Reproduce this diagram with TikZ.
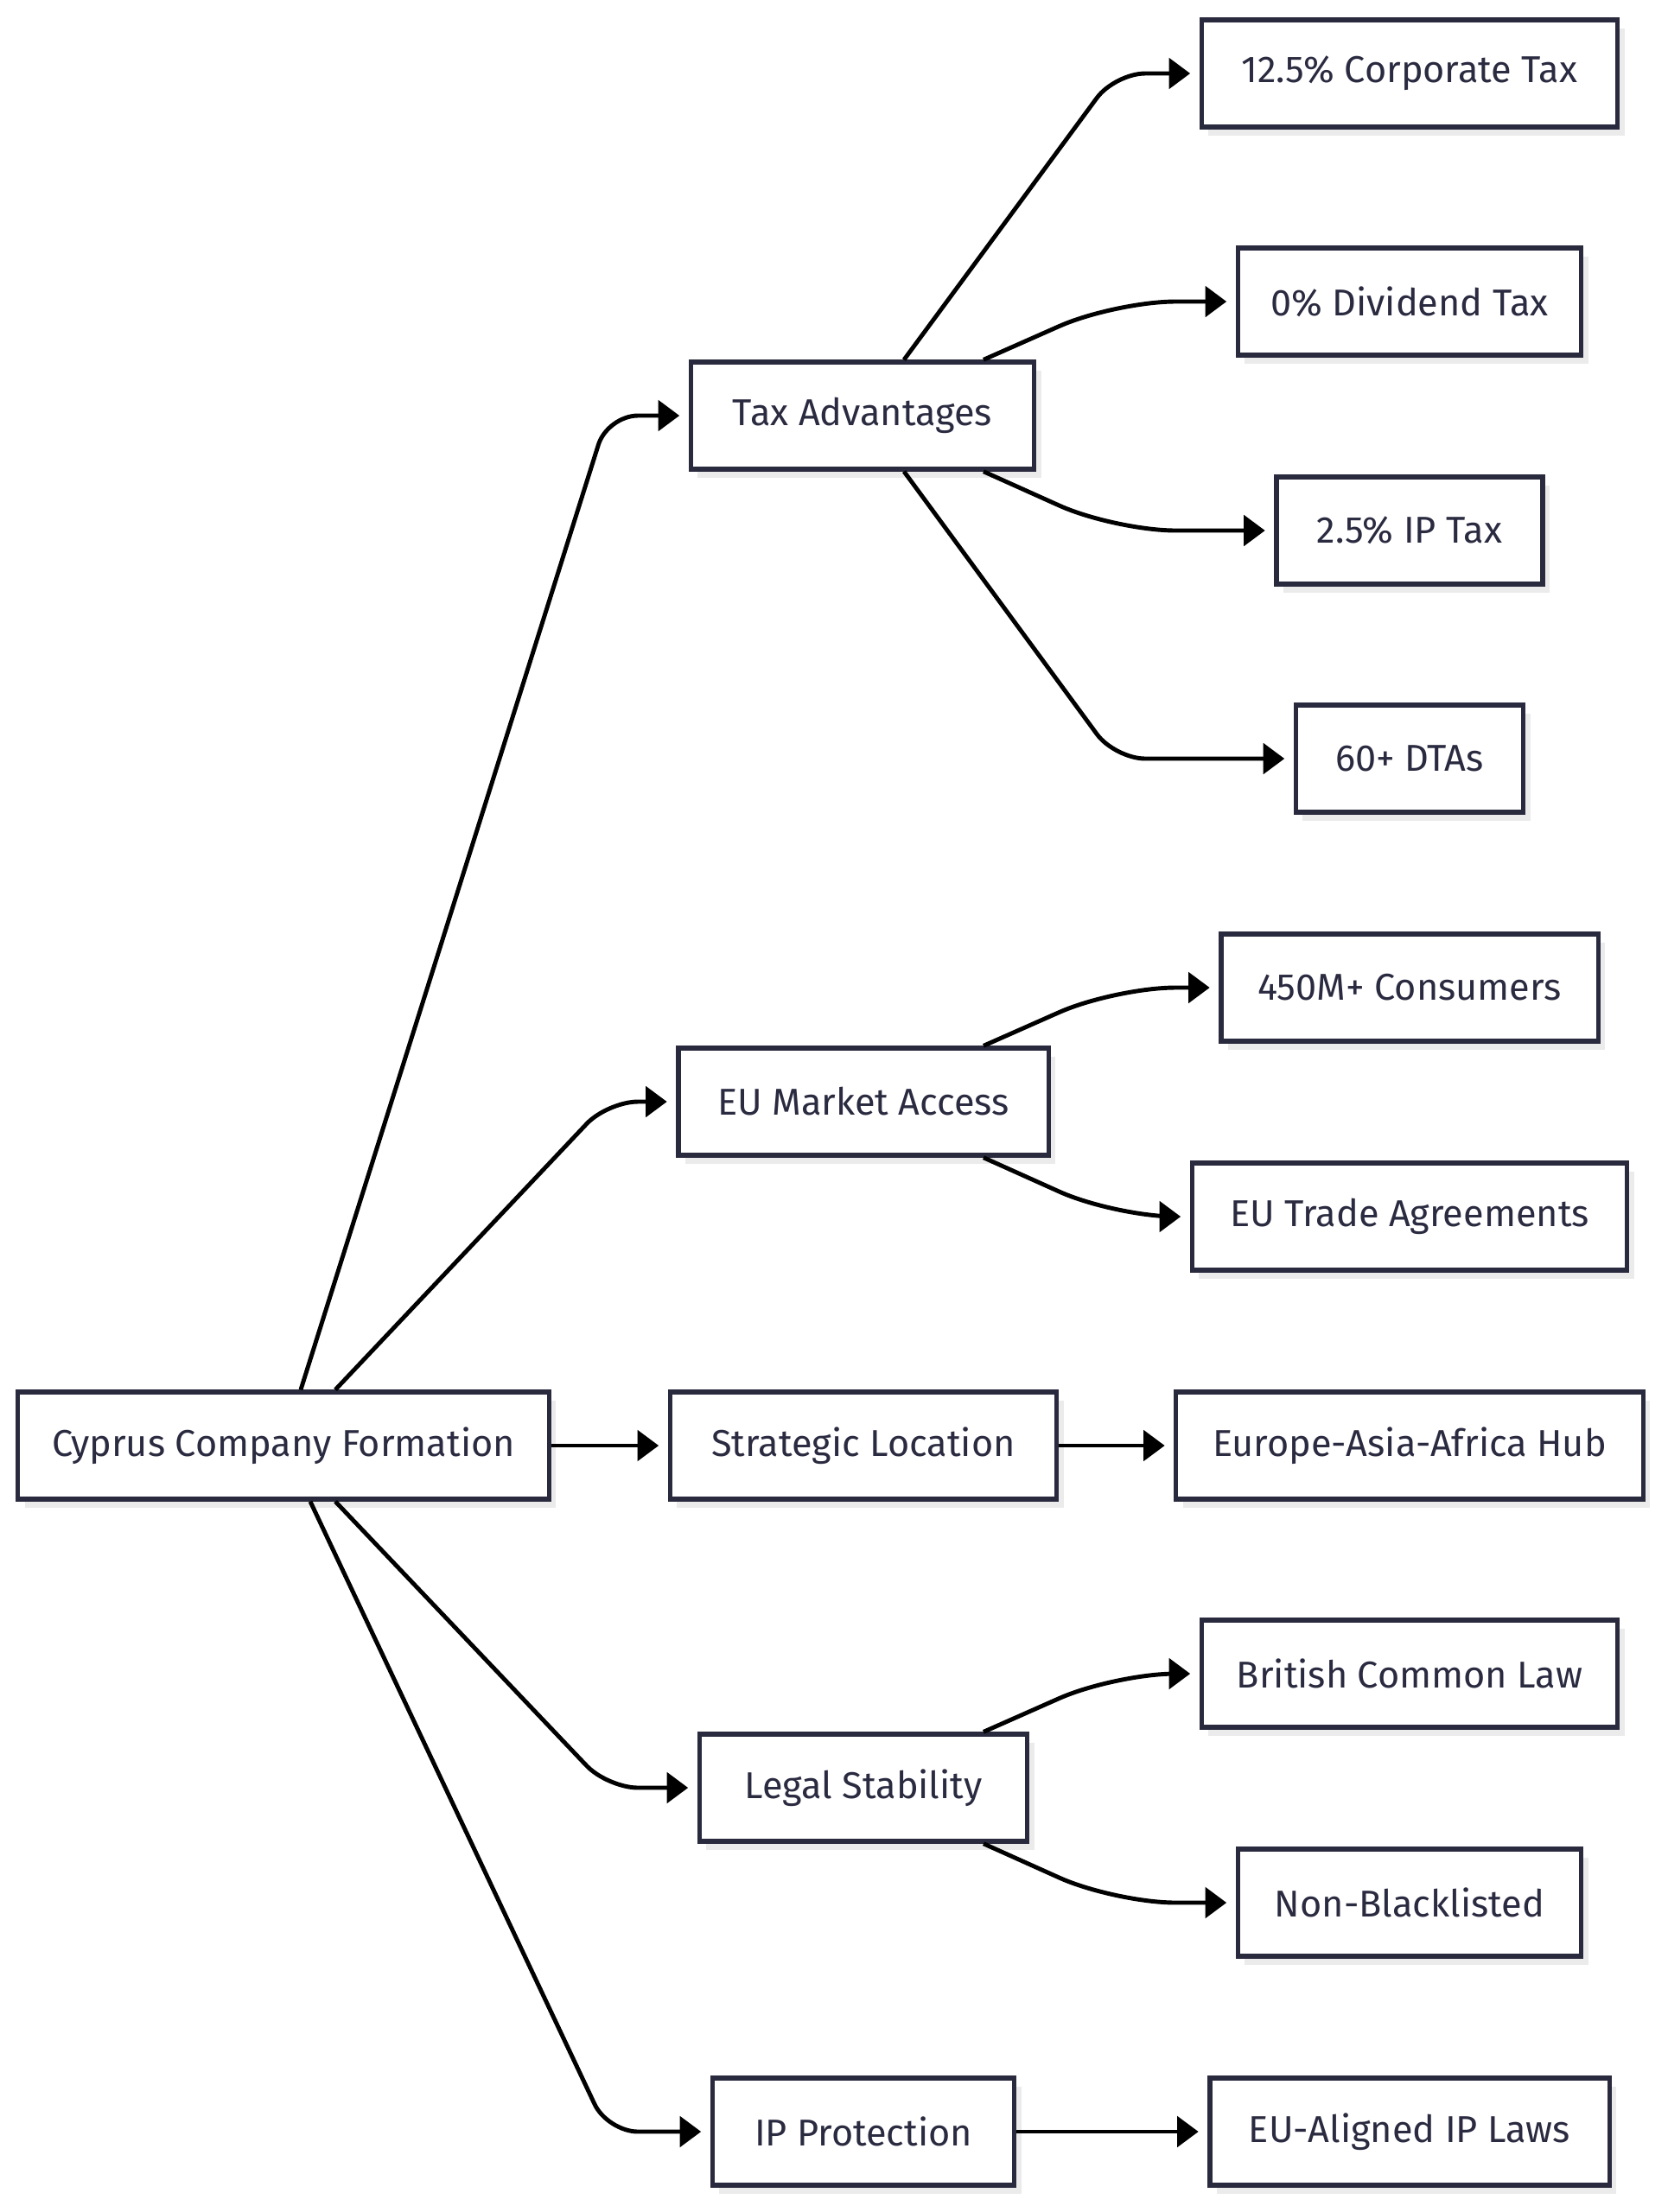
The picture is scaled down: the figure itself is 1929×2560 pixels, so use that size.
\documentclass[tikz,border=0pt]{standalone}
\usepackage{fontspec}
\setmainfont{Fira Sans}
\usetikzlibrary{arrows.meta,positioning,calc,shadows}
\definecolor{Ink}{HTML}{2A2A40}
\definecolor{Frame}{HTML}{2A2A3E}
\definecolor{Shade}{HTML}{EBEBEB}
\tikzset{
  box/.style={draw=Frame,fill=white,line width=1.5pt,minimum height=1.24cm,align=center,font=\fontsize{12.3}{14}\selectfont,text=Ink,drop shadow={shadow xshift=0.08cm,shadow yshift=-0.1cm,fill=Shade,opacity=1}},
  arr/.style={-{Triangle[length=7pt,width=10pt]},draw=black,line width=1.4pt,shorten >=3pt},
  steep/.style={arr,rounded corners=10pt},
  soft/.style={arr,rounded corners=20pt}
}
\begin{document}
\begin{tikzpicture}[x=0.01cm,y=-0.01cm]
  \useasboundingbox (0,0) rectangle (1929,2560);
  \coordinate (bendA) at (703,0);
  \coordinate (bendB) at (1290,0);
  \node[box,minimum width=6.14cm] (root) at (328,1673) {Cyprus Company Formation};
  \node[box,minimum width=3.97cm] (tax) at (998,481) {Tax Advantages};
  \node[box,minimum width=4.28cm] (eu) at (999,1275) {EU Market Access};
  \node[box,minimum width=4.47cm] (loc) at (999,1673) {Strategic Location};
  \node[box,minimum width=3.79cm] (legal) at (999,2069) {Legal Stability};
  \node[box,minimum width=3.49cm] (ip) at (999,2467) {IP Protection};
  \node[box,minimum width=4.81cm] (corp) at (1631,85) {12.5\% Corporate Tax};
  \node[box,minimum width=3.97cm] (div) at (1631,349) {0\% Dividend Tax};
  \node[box,minimum width=3.08cm] (iptax) at (1631,614) {2.5\% IP Tax};
  \node[box,minimum width=2.63cm] (dta) at (1631,878) {60+ DTAs};
  \node[box,minimum width=4.36cm] (cons) at (1631,1143) {450M+ Consumers};
  \node[box,minimum width=5.03cm] (trade) at (1631,1408) {EU Trade Agreements};
  \node[box,minimum width=5.40cm] (hub) at (1631,1673) {Europe-Asia-Africa Hub};
  \node[box,minimum width=4.81cm] (law) at (1631,1937) {British Common Law};
  \node[box,minimum width=3.97cm] (black) at (1631,2202) {Non-Blacklisted};
  \node[box,minimum width=4.62cm] (iplaws) at (1631,2467) {EU-Aligned IP Laws};
  \draw[steep] ($(root.north)+(20,0)$) -- (bendA |- tax.west) -- (tax.west);
  \draw[steep] ($(root.north)+(60,0)$) -- (bendA |- eu.west) -- (eu.west);
  \draw[arr] (root) -- (loc);
  \draw[steep] ($(root.south)+(60,0)$) -- (bendA |- legal.west) -- (legal.west);
  \draw[steep] ($(root.south)+(31,0)$) -- (bendA |- ip.west) -- (ip.west);
  \draw[steep] ($(tax.north)+(48,0)$) -- (bendB |- corp.west) -- (corp.west);
  \draw[soft] ($(tax.north)+(140,0)$) -- (bendB |- div.west) -- (div.west);
  \draw[soft] ($(tax.south)+(140,0)$) -- (bendB |- iptax.west) -- (iptax.west);
  \draw[steep] ($(tax.south)+(48,0)$) -- (bendB |- dta.west) -- (dta.west);
  \draw[soft] ($(eu.north)+(139,0)$) -- (bendB |- cons.west) -- (cons.west);
  \draw[soft] ($(eu.south)+(139,0)$) -- (bendB |- trade.west) -- (trade.west);
  \draw[arr] (loc) -- (hub);
  \draw[soft] ($(legal.north)+(139,0)$) -- (bendB |- law.west) -- (law.west);
  \draw[soft] ($(legal.south)+(139,0)$) -- (bendB |- black.west) -- (black.west);
  \draw[arr] (ip) -- (iplaws);
\end{tikzpicture}
\end{document}
